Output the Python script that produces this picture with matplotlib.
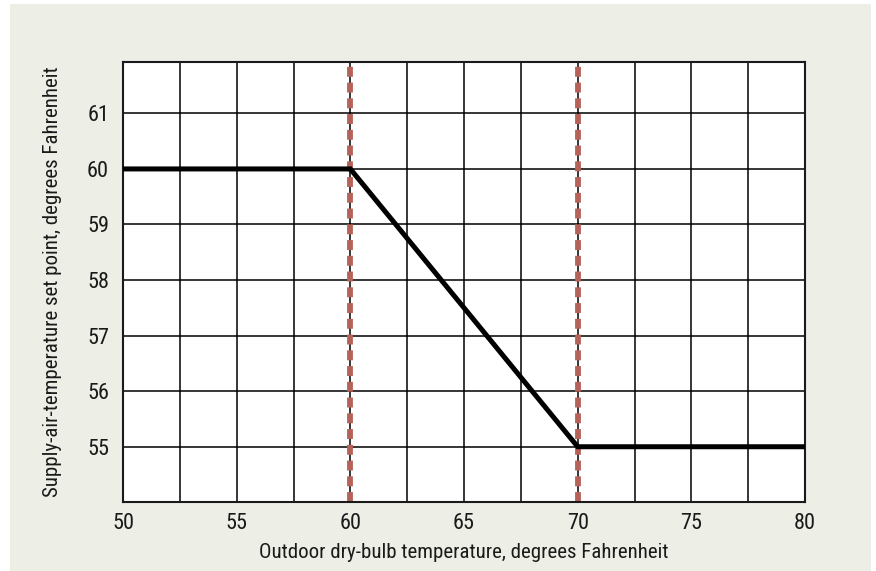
import matplotlib
matplotlib.use('Agg')
import matplotlib.pyplot as plt
import matplotlib.patches as patches

# setpoint reset schedule
outdoor_temp = [50, 60, 70, 80]
supply_setpoint = [60, 60, 55, 55]
# limits of the reset range (dashed lines)
reset_limits = [60, 70]

x_ticks = [50, 55, 60, 65, 70, 75, 80]
x_grid = [52.5, 57.5, 62.5, 67.5, 72.5, 77.5]
y_ticks = [55, 56, 57, 58, 59, 60, 61]

plt.rcParams['font.family'] = ['Roboto Condensed', 'Liberation Sans Narrow', 'Liberation Sans', 'DejaVu Sans']

W, H = 876, 571
fig = plt.figure(figsize=(W / 100, H / 100), dpi=100, facecolor='white')

# light panel behind the chart
panel = patches.Rectangle((10 / W, 0), (871 - 10) / W, 1 - 4 / H,
                          transform=fig.transFigure, facecolor='#edeee6',
                          edgecolor='none', zorder=-5)
fig.patches.append(panel)

ax = fig.add_axes([123 / W, 1 - 502.3 / H, (805 - 123) / W, (502.3 - 61.7) / H])
ax.set_zorder(1)
ax.set_facecolor('white')

ax.set_xlim(50, 80)
ax.set_ylim(54, 61.93)

ax.set_xticks(x_ticks)
ax.set_xticks(x_grid, minor=True)
ax.set_yticks(y_ticks)
ax.tick_params(which='both', length=0, labelsize=16, colors='#1a1a1a')
ax.tick_params(axis='x', pad=8)
ax.tick_params(axis='y', pad=10)

ax.grid(True, which='both', color='black', linewidth=1.1, zorder=1)
ax.set_axisbelow(True)

for sp in ax.spines.values():
    sp.set_linewidth(1.5)
    sp.set_color('#1a1a1a')

# dashed reset limits
for xv in reset_limits:
    ax.axvline(xv, color='#b5635a', linewidth=4.2, linestyle=(0, (1.7, 1.0)), zorder=2)

ax.plot(outdoor_temp, supply_setpoint, color='black', linewidth=3.6,
        solid_capstyle='butt', solid_joinstyle='miter', zorder=3, clip_on=False)

ax.set_xlabel('Outdoor dry-bulb temperature, degrees Fahrenheit', fontsize=15,
              color='#1a1a1a')
ax.set_ylabel('Supply-air-temperature set point, degrees Fahrenheit', fontsize=15,
              color='#1a1a1a')
ax.xaxis.set_label_coords(0.5, (502.3 - 553) / (502.3 - 61.7), transform=ax.transAxes)
ax.xaxis.label.set_va('center')
ax.yaxis.set_label_coords((53 - 123) / (805 - 123), 0.5, transform=ax.transAxes)
ax.yaxis.label.set_va('center')

fig.savefig('out.png', dpi=100, facecolor=fig.get_facecolor())
